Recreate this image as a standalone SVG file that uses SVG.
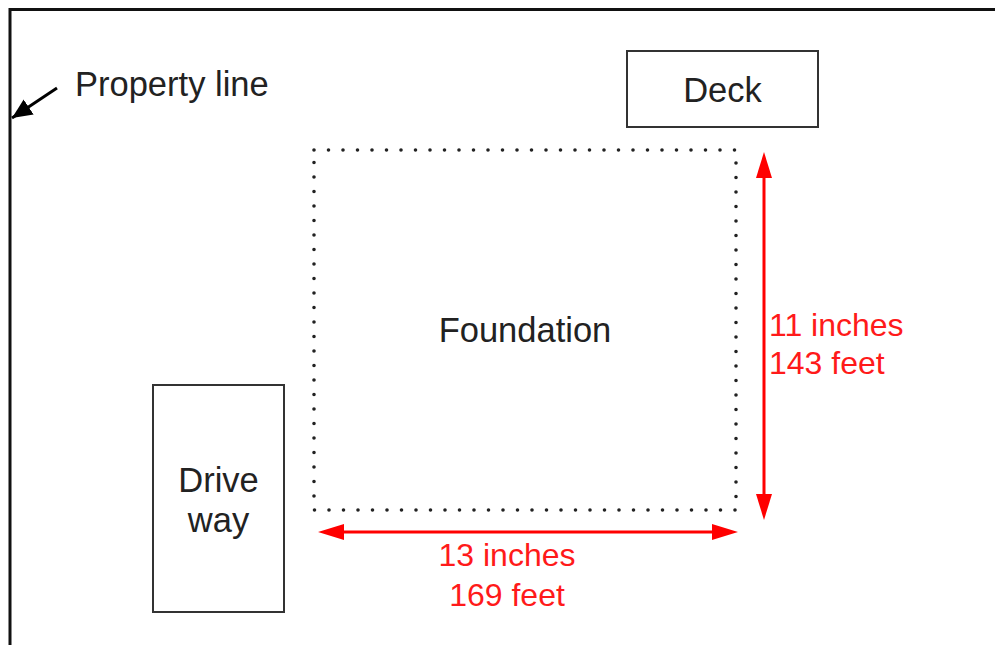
<svg xmlns="http://www.w3.org/2000/svg" width="995" height="645" viewBox="0 0 995 645">
<defs>
<style>
.lbl{font-family:"Liberation Sans",Arial,sans-serif;font-size:34.5px;fill:#222}
.red{font-family:"Liberation Sans",Arial,sans-serif;font-size:32px;fill:#ff1a1a}
.box{fill:#fff;stroke:#333;stroke-width:2}
.dots{fill:none;stroke:#222;stroke-width:3.6;stroke-linecap:round;stroke-dasharray:0 14.5}
.rl{stroke:#ff0000;stroke-width:3;fill:none}
</style>
<marker id="bh" viewBox="0 0 10 10" refX="10" refY="5" markerWidth="20" markerHeight="20" markerUnits="userSpaceOnUse" orient="auto">
<path d="M0,0.5 L10,5 L0,9.5 z" fill="#000"/>
</marker>
</defs>
<rect width="995" height="645" fill="#fff"/>
<g id="property-line">
<path d="M10,645 V9.5 H995" fill="none" stroke="#111" stroke-width="3"/>
<line x1="57" y1="88" x2="12" y2="118" stroke="#000" stroke-width="3" marker-end="url(#bh)"/>
<text class="lbl" x="75" y="96">Property line</text>
</g>
<g id="deck">
<rect class="box" x="627" y="51" width="191" height="76"/>
<text class="lbl" x="722.5" y="102" font-size="33" text-anchor="middle">Deck</text>
</g>
<g id="foundation">
<path class="dots" d="M314,150 H736 V510 H314 Z"/>
<text class="lbl" x="525" y="342" text-anchor="middle">Foundation</text>
</g>
<g id="driveway">
<rect class="box" x="153" y="385" width="131" height="227"/>
<text class="lbl" x="218.5" y="492" text-anchor="middle">Drive</text>
<text class="lbl" x="218.5" y="532" text-anchor="middle">way</text>
</g>
<g id="connectors">
<g id="height-dim">
<line x1="764" y1="172" x2="764" y2="500" class="rl"/>
<path d="M764,152 L756,178 L772,178 Z" fill="#ff0000"/>
<path d="M764,520 L756,494 L772,494 Z" fill="#ff0000"/>
</g>
<g id="width-dim">
<line x1="338" y1="532" x2="718" y2="532" class="rl"/>
<path d="M318,532 L344,524 L344,540 Z" fill="#ff0000"/>
<path d="M738,532 L712,524 L712,540 Z" fill="#ff0000"/>
</g>
</g>
<g id="dim-labels">
<text class="red" x="769" y="336">11 inches</text>
<text class="red" x="769" y="374">143 feet</text>
<text class="red" x="507" y="566" text-anchor="middle">13 inches</text>
<text class="red" x="507" y="606" text-anchor="middle">169 feet</text>
</g>
</svg>
